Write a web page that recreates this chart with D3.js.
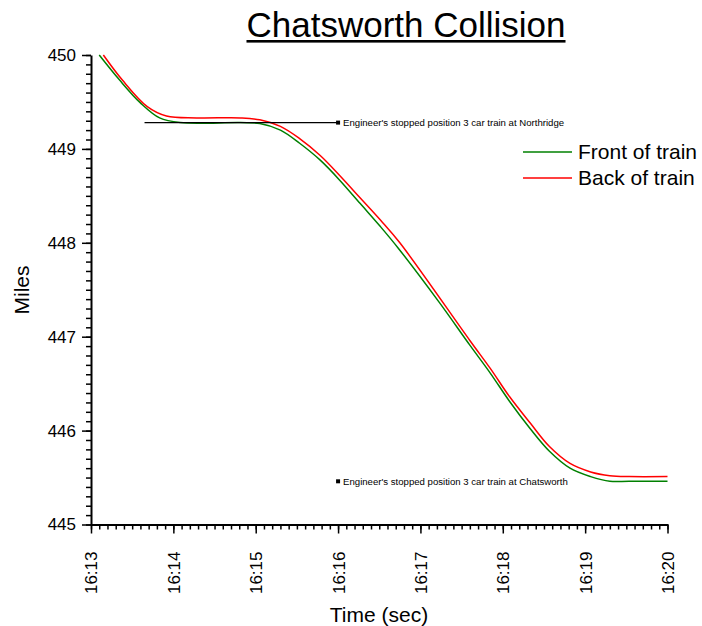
<!DOCTYPE html>
<html lang="en">
<head>
<meta charset="utf-8">
<style>
  body { margin: 0; background: white; }
  svg { font-family: "Liberation Sans", Arial, sans-serif; }
  .axis path, .axis line { stroke: black; }
  .axis .domain { stroke-width: 2px; }
  .axis .tick line { stroke-width: 1.5px; }
  .axis text { font-size: 17px; fill: black; }
</style>
</head>
<body>
<svg width="702" height="626"></svg>
<script src="https://cdnjs.cloudflare.com/ajax/libs/d3/7.8.5/d3.min.js"></script>
<script>
// data (clock time, miles)
var frontTime = ["16:13:06","16:13:21","16:13:36","16:13:50","16:14:05","16:14:49","16:15:03","16:15:18",
                 "16:15:32","16:15:47","16:16:01","16:16:16","16:16:31","16:16:44","16:17:14","16:17:36",
                 "16:17:51","16:18:05","16:18:20","16:18:34","16:18:49","16:19:04","16:19:18","16:19:32","16:20:00"];
var frontMiles = [450.00,449.73,449.49,449.33,449.28,449.28,449.27,449.20,
                  449.06,448.88,448.67,448.42,448.17,447.94,447.36,446.91,
                  446.61,446.31,446.02,445.78,445.60,445.51,445.46,445.46,445.46];
var backTime = ["16:13:09","16:13:23","16:13:41","16:13:55","16:14:17","16:14:49","16:15:03","16:15:18",
                "16:15:32","16:15:47","16:16:01","16:16:16","16:16:31","16:16:45","16:17:36",
                "16:17:51","16:18:05","16:18:20","16:18:34","16:18:49","16:19:04","16:19:18","16:19:32","16:20:00"];
var backMiles = [450.00,449.73,449.45,449.35,449.33,449.33,449.31,449.24,
                 449.11,448.93,448.72,448.48,448.24,448.00,446.96,
                 446.66,446.36,446.08,445.83,445.65,445.56,445.52,445.51,445.51];

var seriesNames = ["Front of train", "Back of train"];
var seriesColors = ["#008000", "#ff0000"];

var notes = [
  { text: "Engineer's stopped position 3 car train at Northridge", from: "16:13:39", at: "16:16:00", miles: 449.28 },
  { text: "Engineer's stopped position 3 car train at Chatsworth", from: null, at: "16:16:00", miles: 445.46 }
];

var parse = d3.timeParse("%H:%M:%S");
var svg = d3.select("svg");

var x = d3.scaleTime()
    .domain([parse("16:13:00"), parse("16:20:00")])
    .range([91, 667.5]);
var y = d3.scaleLinear()
    .domain([445, 450])
    .range([524.5, 55]);

// minor ticks first
svg.append("g")
    .attr("class", "axis")
    .attr("transform", "translate(0,524.5)")
    .call(d3.axisBottom(x).ticks(d3.timeSecond.every(6)).tickSize(5).tickFormat(""))
    .select(".domain").remove();
svg.append("g")
    .attr("class", "axis")
    .attr("transform", "translate(91,0)")
    .call(d3.axisLeft(y).tickValues(d3.range(445, 450.001, 0.1)).tickSize(5).tickFormat(""))
    .select(".domain").remove();

var xAxis = svg.append("g")
    .attr("class", "axis")
    .attr("transform", "translate(0,524.5)")
    .call(d3.axisBottom(x).ticks(d3.timeMinute.every(1)).tickSize(9).tickSizeOuter(0)
      .tickFormat(d3.timeFormat("%H:%M")));
xAxis.selectAll("text")
    .attr("transform", "rotate(-90)")
    .attr("text-anchor", "end")
    .attr("x", -27)
    .attr("y", 0)
    .attr("dy", "0.35em");

svg.append("g")
    .attr("class", "axis")
    .attr("transform", "translate(91,0)")
    .call(d3.axisLeft(y).ticks(5).tickSize(9).tickSizeOuter(0).tickPadding(6));

var line = d3.line()
    .x(d => x(d.t))
    .y(d => y(d.m))
    .curve(d3.curveCatmullRom.alpha(0.5));

var series = [
  frontTime.map((t, i) => ({ t: parse(t), m: frontMiles[i] })),
  backTime.map((t, i) => ({ t: parse(t), m: backMiles[i] }))
];

svg.selectAll(".series")
  .data(series)
  .enter().append("path")
    .attr("class", "series")
    .attr("fill", "none")
    .attr("stroke", (d, i) => seriesColors[i])
    .attr("stroke-width", 1.5)
    .attr("d", line);

// annotations
notes.forEach(n => {
  var px = x(parse(n.at)), py = y(n.miles);
  if (n.from) {
    svg.append("line")
      .attr("x1", x(parse(n.from))).attr("x2", px)
      .attr("y1", py).attr("y2", py)
      .attr("stroke", "black").attr("stroke-width", 1.2);
  }
  svg.append("rect")
    .attr("x", px - 2).attr("y", py - 2)
    .attr("width", 4).attr("height", 4)
    .attr("fill", "black");
  svg.append("text")
    .attr("x", px + 5).attr("y", py)
    .attr("dy", "0.35em")
    .attr("font-size", 9.6)
    .text(n.text);
});

// legend
var legend = svg.append("g");
seriesNames.forEach((name, i) => {
  var ly = 152 + i * 26;
  legend.append("line")
    .attr("x1", 523).attr("x2", 572)
    .attr("y1", ly).attr("y2", ly)
    .attr("stroke", seriesColors[i]).attr("stroke-width", 1.5);
  legend.append("text")
    .attr("x", 578).attr("y", ly)
    .attr("dy", "0.35em")
    .attr("font-size", 21)
    .text(name);
});

// titles
var title = svg.append("text")
    .attr("x", 406).attr("y", 37)
    .attr("text-anchor", "middle")
    .attr("font-size", 35)
    .text("Chatsworth Collision");
var tb = title.node().getBBox();
svg.append("rect")
    .attr("x", tb.x).attr("y", 40)
    .attr("width", tb.width).attr("height", 2.6)
    .attr("fill", "black");

svg.append("text")
    .attr("x", 379).attr("y", 622)
    .attr("text-anchor", "middle")
    .attr("font-size", 21)
    .text("Time (sec)");

svg.append("text")
    .attr("transform", "translate(29,290) rotate(-90)")
    .attr("text-anchor", "middle")
    .attr("font-size", 21)
    .text("Miles");
</script>
</body>
</html>
